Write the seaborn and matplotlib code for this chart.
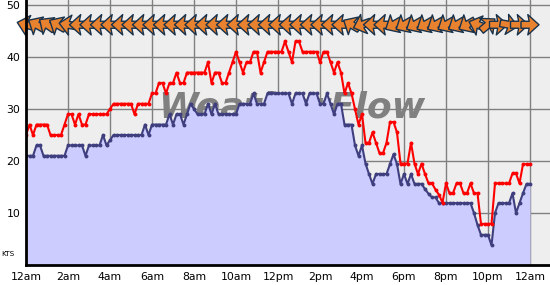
import numpy as np
import pandas as pd
import matplotlib
matplotlib.use("Agg")
import matplotlib.pyplot as plt
import seaborn as sns

# ---- data (10-minute samples, 0h .. 24h) ----
gust_kts = [25, 27, 25, 27, 27, 27, 27, 25, 25, 25, 25, 27, 29, 29, 27, 29, 27, 27, 29, 29,
            29, 29, 29, 29, 30, 31, 31, 31, 31, 31, 31, 29, 31, 31, 31, 31, 33, 33, 35, 35,
            33, 35, 35, 37, 35, 35, 37, 37, 37, 37, 37, 37, 39, 35, 37, 37, 35, 35, 37, 39,
            41, 39, 37, 39, 39, 41, 41, 37, 39, 41, 41, 41, 41, 41, 43, 41, 39, 43, 43, 41,
            41, 41, 41, 41, 39, 41, 41, 39, 37, 39, 37, 33, 35, 33, 30, 27, 29, 23.5, 23.5, 25.5,
            23.5, 21.5, 21.5, 23.5, 27.5, 27.5, 25.5, 19.5, 19.5, 19.5, 23.5, 19.5, 17.5, 19.5, 17.5, 15.7,
            15.7, 14.5, 13.5, 12, 15.7, 13.8, 13.8, 15.7, 15.7, 13.8, 13.8, 15.7, 13.8, 13.8,
            7.9, 7.9, 7.9, 7.9, 15.7, 15.7, 15.7, 15.7, 15.7, 17.6, 17.6, 15.7, 19.4, 19.4, 19.4]
avg_kts = [21, 21, 21, 23, 23, 21, 21, 21, 21, 21, 21, 21, 23, 23, 23, 23, 23, 21, 23, 23,
           23, 23, 25, 23, 24, 25, 25, 25, 25, 25, 25, 25, 25, 25, 27, 25, 27, 27, 27, 27,
           27, 29, 27, 29, 29, 27, 29, 31, 30, 29, 29, 29, 31, 29, 31, 29, 29, 29, 29, 29,
           29, 31, 31, 31, 31, 33, 31, 31, 31, 33, 33, 33, 33, 33, 33, 33, 31, 33, 33, 33,
           31, 33, 33, 33, 31, 31, 33, 31, 29, 31, 31, 27, 27, 27, 23, 21, 23, 19.5, 17.5, 15.6,
           17.5, 17.5, 17.5, 17.5, 19.4, 21.3, 19.4, 15.6, 17.5, 15.6, 17.5, 15.6, 15.6, 15.6, 14.6, 13.7,
           13, 13, 11.9, 11.9, 11.9, 11.9, 11.9, 11.9, 11.9, 11.9, 11.9, 11.9, 10, 7.7,
           5.8, 5.8, 5.8, 3.8, 10, 11.9, 11.9, 11.9, 11.9, 13.8, 10, 11.9, 13.8, 15.6, 15.6]
hours = [i / 6 for i in range(len(gust_kts))]

# wind arrows every 30 min: direction the arrow points (degrees, 0 = right, 90 = up)
arrow_hours = [i / 2 for i in range(49)]
arrow_dir = [165, 150, 145, 150, 170, 180, 180, 180, 180, 180, 180, 180, 180, 180, 180, 180,
             180, 180, 180, 180, 180, 180, 180, 180, 180, 180, 180, 180, 180, 180, 180, 150,
             200, 180, 180, 210, 210, 210, 210, 210, 210, 210, 210, 160, 40, 0, 350, 0, 0]

xtick_hours = list(range(0, 25, 2))
xtick_labels = ["12am", "2am", "4am", "6am", "8am", "10am", "12pm",
                "2pm", "4pm", "6pm", "8pm", "10pm", "12am"]
ytick_vals = [10, 20, 30, 40, 50]

df = pd.DataFrame({"hour": hours, "gust": gust_kts, "avg": avg_kts})

# ---- figure ----
sns.set_style("white")
plt.rcParams["font.family"] = ["DejaVu Sans"]
fig = plt.figure(figsize=(5.5, 2.85), dpi=100)
W, H = 550, 285
ax = fig.add_axes([26 / W, 20 / H, 524 / W, 265 / H])
ax.set_facecolor("#eeeeee")
ax.set_xlim(0, 524 / 21)
ax.set_ylim(0, 265 / 5.2)

# grid
ax.set_axisbelow(True)
ax.grid(True, color="#808080", linewidth=1, zorder=0)

# watermark
ax.text(12.65, 30.3, "WeatherFlow", fontsize=26, fontweight="bold", fontstyle="italic",
        color="#808080", ha="center", va="center", zorder=1)

# fill under average
ax.fill_between(df["hour"], df["avg"], 0, color="#ccccff", zorder=2, linewidth=0)

sns.lineplot(data=df, x="hour", y="gust", ax=ax, color="#ff0000", linewidth=1.5,
             marker="o", markersize=2.8, markeredgewidth=0, zorder=4)
sns.lineplot(data=df, x="hour", y="avg", ax=ax, color="#3f3f7f", linewidth=1.5,
             marker="o", markersize=2.8, markeredgewidth=0, zorder=3)

# wind arrows
L = 18
ang = np.deg2rad(arrow_dir)
u = L * np.cos(ang)
v = L * np.sin(ang)
ax.quiver(arrow_hours, [46.2] * len(arrow_hours), u, v, angles="uv", scale_units="dots",
          scale=1, units="dots", width=7, headwidth=2.9, headlength=1.6,
          headaxislength=1.4, pivot="middle", color="#e8822e", edgecolor="#17324d",
          linewidth=1.0, zorder=5, clip_on=False)

ax.set_xticks(xtick_hours)
ax.set_xticklabels(xtick_labels)
ax.set_yticks(ytick_vals)
ax.set_yticklabels([str(v) for v in ytick_vals])
ax.tick_params(axis="both", length=0, labelsize=7.8, colors="#000000")
ax.tick_params(axis="x", pad=5)
ax.tick_params(axis="y", pad=4)
ax.set_xlabel("")
ax.set_ylabel("")

for s in ["top", "right"]:
    ax.spines[s].set_visible(False)
for s in ["left", "bottom"]:
    ax.spines[s].set_color("#000000")
    ax.spines[s].set_linewidth(2)
    ax.spines[s].set_zorder(6)

fig.text(1 / W, 1 - 254 / H, "KTS", fontsize=5.2, ha="left", va="center", color="#000000")

fig.savefig("out.png", dpi=100)
